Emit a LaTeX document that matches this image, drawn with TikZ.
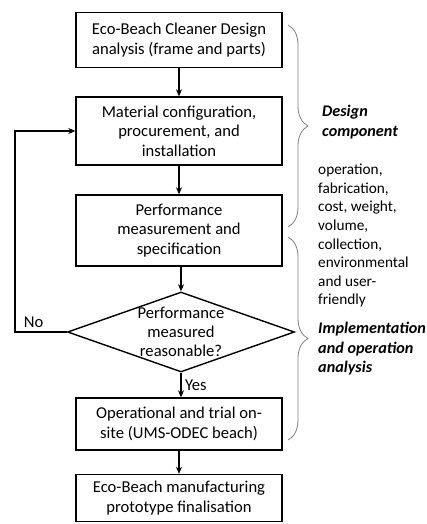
\documentclass[tikz,border=0pt]{standalone}
\usepackage{fontspec}
\setmainfont{Carlito}
\usetikzlibrary{shapes.geometric,decorations.pathreplacing,arrows.meta}

\tikzset{
  stepbox/.style={draw, line width=1.4pt, minimum width=206pt, align=center,
    inner sep=2pt, font=\fontsize{16.6}{19.3}\selectfont},
  decbox/.style={draw, diamond, line width=1.4pt, minimum width=227pt,
    minimum height=80pt, inner sep=0pt, aspect=2.8},
  flow/.style={->, line width=1.4pt, >={Stealth[length=7pt,width=6pt]}},
  gbrace/.style={draw=gray, line width=0.8pt,
    decorate, decoration={brace, amplitude=20pt, aspect=0.5}},
  sidetext/.style={align=left, inner sep=0pt, font=\fontsize{15.3}{18.6}\selectfont},
  sidehead/.style={align=left, inner sep=0pt, font=\fontsize{16.2}{19.5}\selectfont\bfseries\itshape},
}

\begin{document}
\begin{tikzpicture}[x=1pt, y=-1pt]

  \newcommand\CX{179};
  \useasboundingbox (0,0) rectangle (426,524);

  %% main column
  \node[stepbox, minimum height=55pt] (frame) at (\CX, 40) {Eco-Beach Cleaner Design\\analysis (frame and parts)};
  \node[stepbox, minimum height=68pt] (mat) at (\CX, 131) {Material configuration,\\procurement, and\\installation};
  \node[stepbox, minimum height=71pt] (perf) at (\CX, 230.5) {Performance\\measurement and\\specification};
  \node[decbox, label={[align=center, font=\fontsize{16.6}{19.3}\selectfont]center:Performance\\measured\\reasonable?}] (dec) at (\CX+2, 332) {};
  \node[stepbox, minimum height=52pt] (trial) at (\CX, 424) {Operational and trial on-\\site (UMS-ODEC beach)};
  \node[stepbox, minimum height=47pt] (final) at (\CX, 498) {Eco-Beach manufacturing\\prototype finalisation};

  \draw[flow] (frame) -- (mat);
  \draw[flow] (mat) -- (perf);
  \draw[flow] (perf.south -| dec.north) -- (dec.north);
  \draw[flow] (dec.south) -- node[right, font=\fontsize{16.6}{19.3}\selectfont]{Yes} (dec.south |- trial.north);
  \draw[flow] (trial) -- (final);

  %% loop back
  \coordinate (back) at (15, 332);
  \draw[flow] (dec.west) -- node[above, pos=0.64, font=\fontsize{16.6}{19.3}\selectfont]{No} (back) |- (mat.west);

  %% braces on the right
  \draw[gbrace] (288, 25) -- (288, 227);
  \draw[gbrace] (288, 237) -- (288, 440);

  \node[sidehead, anchor=west] (design) at (322, 122) {Design\\component};
  \node[sidetext, anchor=north west] (items) at (318, 164) {operation,\\fabrication,\\cost, weight,\\volume,\\collection,\\environmental\\and user-\\friendly};
  \node[sidehead, anchor=north west] (impl) at (318, 322) {Implementation\\and operation\\analysis};

\end{tikzpicture}
\end{document}
